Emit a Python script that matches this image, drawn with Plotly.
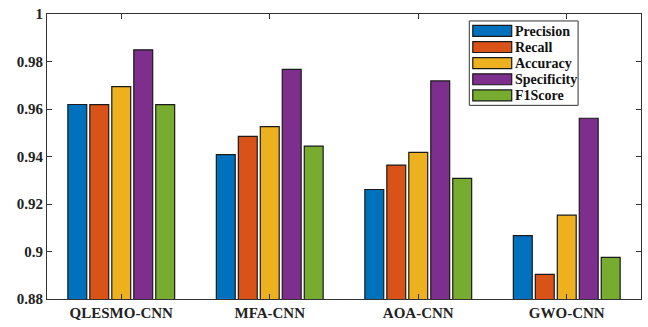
import plotly.graph_objects as go

categories = ["QLESMO-CNN", "MFA-CNN", "AOA-CNN", "GWO-CNN"]
series_names = ["Precision", "Recall", "Accuracy", "Specificity", "F1Score"]
precision = [0.9619, 0.9408, 0.9261, 0.9067]
recall = [0.9618, 0.9485, 0.9364, 0.8904]
accuracy = [0.9694, 0.9526, 0.9417, 0.9153]
specificity = [0.9849, 0.9767, 0.9718, 0.9561]
f1score = [0.9618, 0.9444, 0.9308, 0.8975]
series_values = [precision, recall, accuracy, specificity, f1score]
colors = ["#0072BD", "#D95319", "#EDB120", "#7E2F8E", "#77AC30"]
y_ticks = [0.88, 0.9, 0.92, 0.94, 0.96, 0.98, 1.0]
y_tick_labels = ["0.88", "0.9", "0.92", "0.94", "0.96", "0.98", "1"]

W, H = 648, 327
ml, mr, mt, mb = 47, 6, 13, 27
pw, ph = W - ml - mr, H - mt - mb
FONT = "Liberation Serif, Times New Roman, Times, serif"

fig = go.Figure()
x_pos = list(range(1, len(categories) + 1))
for name, vals, c in zip(series_names, series_values, colors):
    fig.add_trace(go.Bar(
        x=x_pos, y=vals, name=name,
        marker=dict(color=c, line=dict(color="#1a1a1a", width=1.2)),
        showlegend=False,
    ))

def px_x(p):
    return (p - ml) / pw

def px_y(p):
    return 1 - (p - mt) / ph

shapes = []
annotations = []
shapes.append(dict(type="rect", xref="paper", yref="paper",
                   x0=px_x(470), x1=px_x(579), y0=px_y(105), y1=px_y(20),
                   line=dict(color="#333333", width=1), fillcolor="white", layer="above"))
for i, (name, c) in enumerate(zip(series_names, colors)):
    cy = 30 + i * 16.25
    shapes.append(dict(type="rect", xref="paper", yref="paper",
                       x0=px_x(473.5), x1=px_x(512.5), y0=px_y(cy + 5.5), y1=px_y(cy - 5.5),
                       line=dict(color="#1a1a1a", width=1.2), fillcolor=c, layer="above"))
    annotations.append(dict(xref="paper", yref="paper", x=px_x(514), y=px_y(cy + 0.5),
                            text="<b>" + name + "</b>", showarrow=False,
                            xanchor="left", yanchor="middle",
                            font=dict(family=FONT, size=14, color="#111111")))

fig.update_layout(
    width=W, height=H,
    margin=dict(l=ml, r=mr, t=mt, b=mb),
    paper_bgcolor="white", plot_bgcolor="white",
    barmode="group", bargap=0.26, bargroupgap=0.14,
    font=dict(family=FONT, size=15, color="#222222"),
    shapes=shapes, annotations=annotations,
    xaxis=dict(range=[0.5, 4.5], tickvals=x_pos, ticktext=["<b>" + c + "</b>" for c in categories],
               showgrid=False, zeroline=False, showline=True, linecolor="#333333", linewidth=1,
               mirror="ticks", ticks="inside", ticklen=5, tickcolor="#333333",
               tickfont=dict(family=FONT, size=15, color="#222222")),
    yaxis=dict(range=[0.88, 1.0], tickvals=y_ticks, ticktext=["<b>" + t + "</b>" for t in y_tick_labels],
               showgrid=False, zeroline=False, showline=True, linecolor="#333333", linewidth=1,
               mirror="ticks", ticks="inside", ticklen=5, tickcolor="#333333",
               tickfont=dict(family=FONT, size=15, color="#222222")),
)

fig.write_html("out.html")
